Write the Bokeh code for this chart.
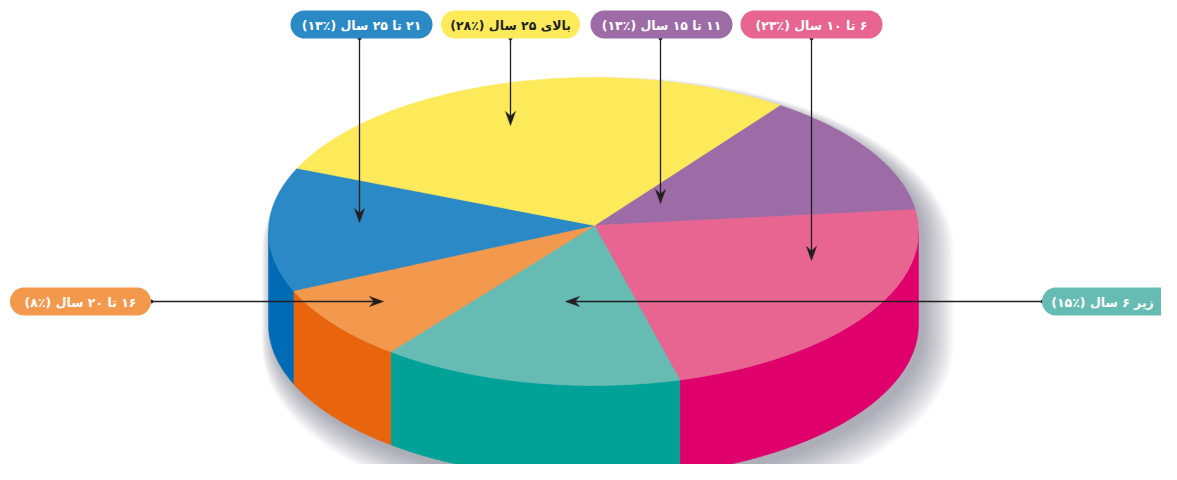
import numpy as np
from bokeh.plotting import figure
from bokeh.models import Range1d, ColumnDataSource
from bokeh.embed import file_html
from bokeh.resources import INLINE
from bokeh.core.properties import value

# ---------------- data ----------------
groups = ["۱۱ تا ۱۵ سال", "۶ تا ۱۰ سال", "زیر ۶ سال", "۱۶ تا ۲۰ سال", "۲۱ تا ۲۵ سال", "بالای ۲۵ سال"]
percent_texts = ["٪۱۳", "٪۲۳", "٪۱۵", "٪۸", "٪۱۳", "٪۲۸"]
shares = [13, 23, 15, 8, 13, 28]

# ---------------- style ----------------
top_colors = ["#9D6BA6", "#E86491", "#66BCB3", "#F2994E", "#2B89C6", "#FDEA5A"]
side_colors = ["#7E4F8A", "#DF006C", "#00A298", "#E8650E", "#006BB5", "#E0C820"]
label_text_colors = ["white", "white", "white", "white", "white", "#231F20"]

# label layout (pill centre, pill width, text centre x, arrow start, arrow end)
pill_centers = [(661, 24), (811, 24), (1109, 301), (80, 301), (361, 24), (510, 24)]
pill_widths = [142, 142, 135, 141, 142, 139]
text_x = [661, 811, 1102, 80, 361, 510]
arrow_starts = [(660, 38), (811, 38), (1042, 301), (151, 301), (359, 38), (510, 38)]
arrow_ends = [(660, 203), (811, 260), (565, 301), (383, 301), (359, 222), (510, 125)]
PILL_H = 28

# pie geometry (screen pixel space)
CX, CY, RX, RY, DEPTH = 593.0, 231.0, 325.0, 154.0, 93.0
APEX = (594.0, 225.0)
START_DEG = 55.0

W, H = 1161, 464
p = figure(width=W, height=H, x_range=Range1d(0, W), y_range=Range1d(H, 0),
           output_backend="svg", toolbar_location=None, min_border=0,
           x_axis_location=None, y_axis_location=None, outline_line_color=None,
           background_fill_color="white", border_fill_color="white")
p.xgrid.visible = False
p.ygrid.visible = False


def ell(theta_deg, dy=0.0, grow=0.0):
    t = np.radians(theta_deg)
    return CX + (RX + grow) * np.cos(t), CY - (RY + grow) * np.sin(t) + dy


# ---- shadow ----
for k in range(14):
    g = k * 1.6
    ox, oy = 5 + k * 0.7, 7 + k * 1.0
    th1 = np.linspace(0, 180, 120)
    th2 = np.linspace(180, 360, 120)
    x1, y1 = ell(th1, 0, g)
    x2, y2 = ell(th2, DEPTH, g)
    xs = np.concatenate([x1, x2]) + ox
    ys = np.concatenate([y1, y2]) + oy
    p.patch(xs, ys, fill_color="#4a5060", fill_alpha=0.04, line_color=None)

# ---- slice angles ----
fracs = np.array(shares, dtype=float) / sum(shares)
cum = np.concatenate([[0], np.cumsum(fracs)])
a_hi = START_DEG - cum[:-1] * 360
a_lo = START_DEG - cum[1:] * 360

# ---- sides (front visible part: angles -180..0) ----
side_xs, side_ys, side_cols = [], [], []
for i in range(len(shares)):
    hi = min(a_hi[i], 0.0)
    lo = max(a_lo[i], -180.0)
    if hi <= lo:
        continue
    th = np.linspace(hi, lo, 80)
    xt, yt = ell(th)
    xb, yb = ell(th[::-1], DEPTH)
    side_xs.append(list(np.concatenate([xt, xb])))
    side_ys.append(list(np.concatenate([yt, yb])))
    side_cols.append(side_colors[i])
p.patches(side_xs, side_ys, fill_color=side_cols, line_color=side_cols, line_width=0.5)

# ---- tops ----
top_xs, top_ys = [], []
for i in range(len(shares)):
    th = np.linspace(a_hi[i], a_lo[i], 120)
    xt, yt = ell(th)
    top_xs.append([APEX[0]] + list(xt))
    top_ys.append([APEX[1]] + list(yt))
p.patches(top_xs, top_ys, fill_color=top_colors, line_color=top_colors, line_width=0.5)

# ---- arrows ----
ARROW_COL = "#231F20"
for (sx, sy), (ex, ey) in zip(arrow_starts, arrow_ends):
    d = np.array([ex - sx, ey - sy], dtype=float)
    d /= np.linalg.norm(d)
    n = np.array([-d[1], d[0]])
    L, wd, notch = 14.0, 5.0, 4.5
    tip = np.array([ex, ey], dtype=float)
    base = tip - L * d
    p.line([sx, base[0] + notch * d[0]], [sy, base[1] + notch * d[1]], line_color=ARROW_COL, line_width=1.3)
    pts = [tip, base + wd * n, tip - (L - notch) * d, base - wd * n]
    p.patch([q[0] for q in pts], [q[1] for q in pts], fill_color=ARROW_COL, line_color=ARROW_COL, line_width=0.5)
    p.scatter([sx], [sy], size=3, color=ARROW_COL)


# ---- label pills ----
def pill(cx, cy, w, h):
    r = h / 2.0
    left_c, right_c = cx - w / 2 + r, cx + w / 2 - r
    th_r = np.linspace(-90, 90, 30)
    th_l = np.linspace(90, 270, 30)
    xs = list(right_c + r * np.cos(np.radians(th_r))) + list(left_c + r * np.cos(np.radians(th_l)))
    ys = list(cy + r * np.sin(np.radians(th_r))) + list(cy + r * np.sin(np.radians(th_l)))
    return xs, ys


pxs, pys = [], []
for (cx, cy), w in zip(pill_centers, pill_widths):
    xs, ys = pill(cx, cy, w, PILL_H)
    pxs.append(xs)
    pys.append(ys)
p.patches(pxs, pys, fill_color=top_colors, line_color=None)

texts = ["\u202b" + g + " (" + t + ")" + "\u202c" for g, t in zip(groups, percent_texts)]
src = ColumnDataSource(dict(x=text_x, y=[c[1] + 1 for c in pill_centers],
                            text=texts, color=label_text_colors))
p.text(x="x", y="y", text="text", source=src, text_color="color", text_align="center",
       text_baseline="middle", text_font=value("DejaVu Sans"), text_font_style="bold",
       text_font_size="12.5px")

open("out.html", "w").write(file_html(p, INLINE))
